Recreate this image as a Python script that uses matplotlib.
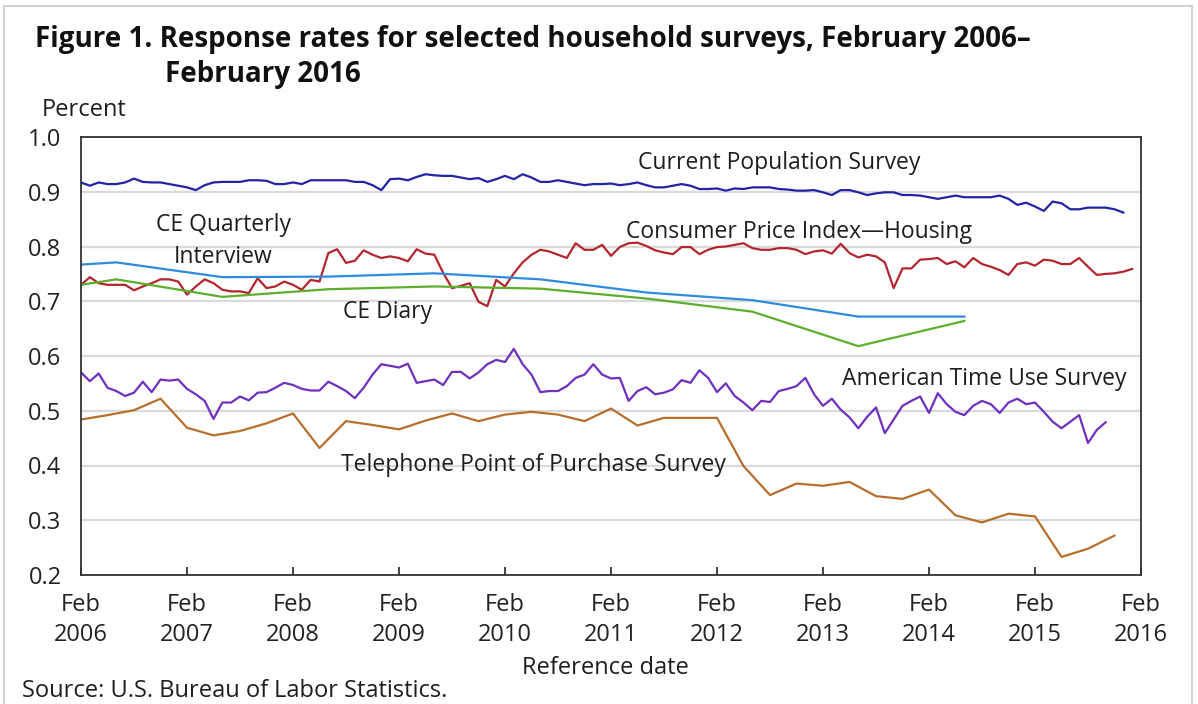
import numpy as np
import matplotlib
matplotlib.use("Agg")
import matplotlib.pyplot as plt
from matplotlib.lines import Line2D

plt.rcParams['font.family'] = ['Open Sans', 'DejaVu Sans']

# ---------------- data (month index 0 = Feb 2006) ----------------
year_ticks = list(range(0, 121, 12))
tick_labels = [f"Feb\n{y}" for y in range(2006, 2017)]
y_ticks = [0.2, 0.3, 0.4, 0.5, 0.6, 0.7, 0.8, 0.9, 1.0]

cps = [0.917,0.911,0.917,0.914,0.914,0.917,0.924,0.918,0.917,0.917,
       0.914,0.911,0.908,0.903,0.912,0.917,0.918,0.918,0.918,0.921,
       0.921,0.920,0.914,0.914,0.917,0.914,0.921,0.921,0.921,0.921,
       0.921,0.918,0.918,0.912,0.903,0.923,0.924,0.921,0.927,0.932,
       0.930,0.929,0.929,0.926,0.923,0.925,0.918,0.923,0.929,0.923,
       0.932,0.926,0.918,0.918,0.921,0.918,0.915,0.912,0.914,0.914,
       0.915,0.912,0.914,0.917,0.912,0.908,0.908,0.911,0.914,0.911,
       0.905,0.905,0.906,0.902,0.906,0.905,0.908,0.908,0.908,0.905,
       0.904,0.902,0.902,0.903,0.899,0.894,0.903,0.903,0.899,0.894,
       0.897,0.899,0.899,0.894,0.894,0.893,0.890,0.887,0.890,0.893,
       0.890,0.890,0.890,0.890,0.893,0.887,0.876,0.880,0.873,0.865,
       0.882,0.879,0.868,0.868,0.871,0.871,0.871,0.868,0.862]

cpi_housing = [0.730,0.744,0.733,0.730,0.730,0.730,0.720,0.727,0.733,0.740,
               0.740,0.736,0.712,0.727,0.740,0.733,0.721,0.718,0.718,0.715,
               0.742,0.724,0.727,0.736,0.730,0.721,0.739,0.736,0.788,0.795,
               0.770,0.774,0.793,0.785,0.779,0.782,0.779,0.773,0.795,0.787,
               0.785,0.752,0.724,0.728,0.733,0.699,0.691,0.739,0.727,0.751,
               0.771,0.785,0.794,0.791,0.785,0.779,0.806,0.794,0.794,0.803,
               0.783,0.799,0.806,0.807,0.801,0.793,0.789,0.786,0.799,0.799,
               0.786,0.794,0.799,0.800,0.803,0.806,0.797,0.794,0.794,0.797,
               0.797,0.794,0.786,0.791,0.793,0.787,0.805,0.788,0.780,0.785,
               0.782,0.771,0.724,0.760,0.760,0.776,0.777,0.779,0.768,0.773,
               0.762,0.779,0.768,0.763,0.757,0.748,0.768,0.771,0.765,0.776,
               0.774,0.768,0.768,0.779,0.763,0.748,0.750,0.751,0.754,0.759]

atus = [0.570,0.554,0.568,0.542,0.536,0.527,0.533,0.553,0.534,0.557,
        0.555,0.557,0.540,0.530,0.518,0.485,0.515,0.515,0.526,0.519,
        0.533,0.534,0.542,0.551,0.547,0.540,0.537,0.537,0.553,0.545,
        0.536,0.523,0.542,0.566,0.585,0.582,0.579,0.586,0.551,0.554,
        0.557,0.547,0.571,0.571,0.559,0.570,0.585,0.593,0.589,0.613,
        0.585,0.566,0.534,0.536,0.536,0.545,0.560,0.566,0.585,0.566,
        0.559,0.560,0.518,0.536,0.543,0.530,0.533,0.539,0.556,0.551,
        0.574,0.560,0.534,0.550,0.527,0.515,0.501,0.518,0.516,0.536,
        0.540,0.545,0.560,0.530,0.509,0.522,0.502,0.488,0.468,0.489,
        0.506,0.459,0.484,0.509,0.518,0.526,0.496,0.532,0.512,0.498,
        0.492,0.509,0.518,0.512,0.496,0.515,0.522,0.512,0.515,0.498,
        0.480,0.468,0.480,0.492,0.441,0.465,0.479]

tpops_months = list(range(0, 118, 3))
tpops = [0.484,0.492,0.501,0.522,0.469,0.455,0.463,0.477,0.495,0.432,
         0.481,0.474,0.466,0.482,0.495,0.481,0.493,0.498,0.493,0.481,
         0.504,0.473,0.487,0.487,0.487,0.399,0.346,0.367,0.363,0.370,
         0.344,0.339,0.356,0.309,0.296,0.312,0.307,0.233,0.248,0.272]

ce_months = [0, 4, 16, 28, 40, 52, 64, 76, 88, 100]
ce_quarterly = [0.767,0.771,0.744,0.745,0.751,0.740,0.716,0.702,0.672,0.672]
ce_diary = [0.730,0.740,0.708,0.722,0.727,0.723,0.705,0.681,0.618,0.664]

# ---------------- figure ----------------
W, H = 1198, 704
fig = plt.figure(figsize=(W/100, H/100), dpi=100)
def fx(x): return x / W
def fy(y): return 1 - y / H

L, R, T, B = 81, 1141, 137, 575
ax = fig.add_axes([fx(L), fy(B), (R-L)/W, (B-T)/H])

ax.set_xlim(0, 120)
ax.set_ylim(0.2, 1.0)
for y in y_ticks:
    ax.axhline(y, color='#DADADA', lw=1.6, zorder=0)

lw = 1.6
ax.plot(range(len(cps)), cps, color='#2323A6', lw=lw)
ax.plot(range(len(cpi_housing)), cpi_housing, color='#B3262E', lw=lw)
ax.plot(ce_months, ce_quarterly, color='#2F8BE0', lw=lw)
ax.plot(ce_months, ce_diary, color='#5DAE2C', lw=lw)
ax.plot(range(len(atus)), atus, color='#7030BE', lw=lw)
ax.plot(tpops_months, tpops, color='#B86E2C', lw=lw)

ax.set_yticks(y_ticks)
ax.set_yticklabels([f"{v:.1f}" for v in y_ticks], fontsize=17, color='#222222')
ax.tick_params(axis='y', length=0, pad=14)
ax.set_xticks(year_ticks)
ax.set_xticklabels(tick_labels, fontsize=17, color='#222222', linespacing=1.35)
ax.tick_params(axis='x', direction='in', length=6, width=1.3, color='#333333', pad=13)
for s in ax.spines.values():
    s.set_color('#333333')
    s.set_linewidth(1.3)

# ---------------- texts ----------------
tc = '#1E1E1E'
fig.text(fx(35), fy(47), "Figure 1. Response rates for selected household surveys, February 2006–",
         fontsize=20, fontweight='bold', color='#111111', va='baseline', ha='left')
fig.text(fx(165), fy(82), "February 2016",
         fontsize=20, fontweight='bold', color='#111111', va='baseline', ha='left')
fig.text(fx(42), fy(116), "Percent", fontsize=17, color=tc, va='baseline', ha='left')
fig.text(fx(605), fy(668), "Reference date", fontsize=17, color=tc, va='center', ha='center')
fig.text(fx(22), fy(697), "Source: U.S. Bureau of Labor Statistics.", fontsize=17, color=tc,
         va='baseline', ha='left')

ann = dict(fontsize=16.5, color=tc, va='center', ha='center')
fig.text(fx(779), fy(163), "Current Population Survey", **ann)
fig.text(fx(799), fy(232), "Consumer Price Index—Housing", **ann)
fig.text(fx(223), fy(241), "CE Quarterly\nInterview", linespacing=1.45, **ann)
fig.text(fx(388), fy(312), "CE Diary", **ann)
fig.text(fx(984), fy(379), "American Time Use Survey", **ann)
fig.text(fx(533), fy(465), "Telephone Point of Purchase Survey", **ann)

# light frame around the figure
bc = '#D2D2D2'
fig.add_artist(Line2D([fx(4), fx(4)], [fy(6), 0], color=bc, lw=1.5))
fig.add_artist(Line2D([fx(4), fx(1192)], [fy(6), fy(6)], color=bc, lw=1.5))
fig.add_artist(Line2D([fx(1192), fx(1192)], [fy(6), 0], color=bc, lw=1.5))

fig.savefig("out.png", dpi=100)
